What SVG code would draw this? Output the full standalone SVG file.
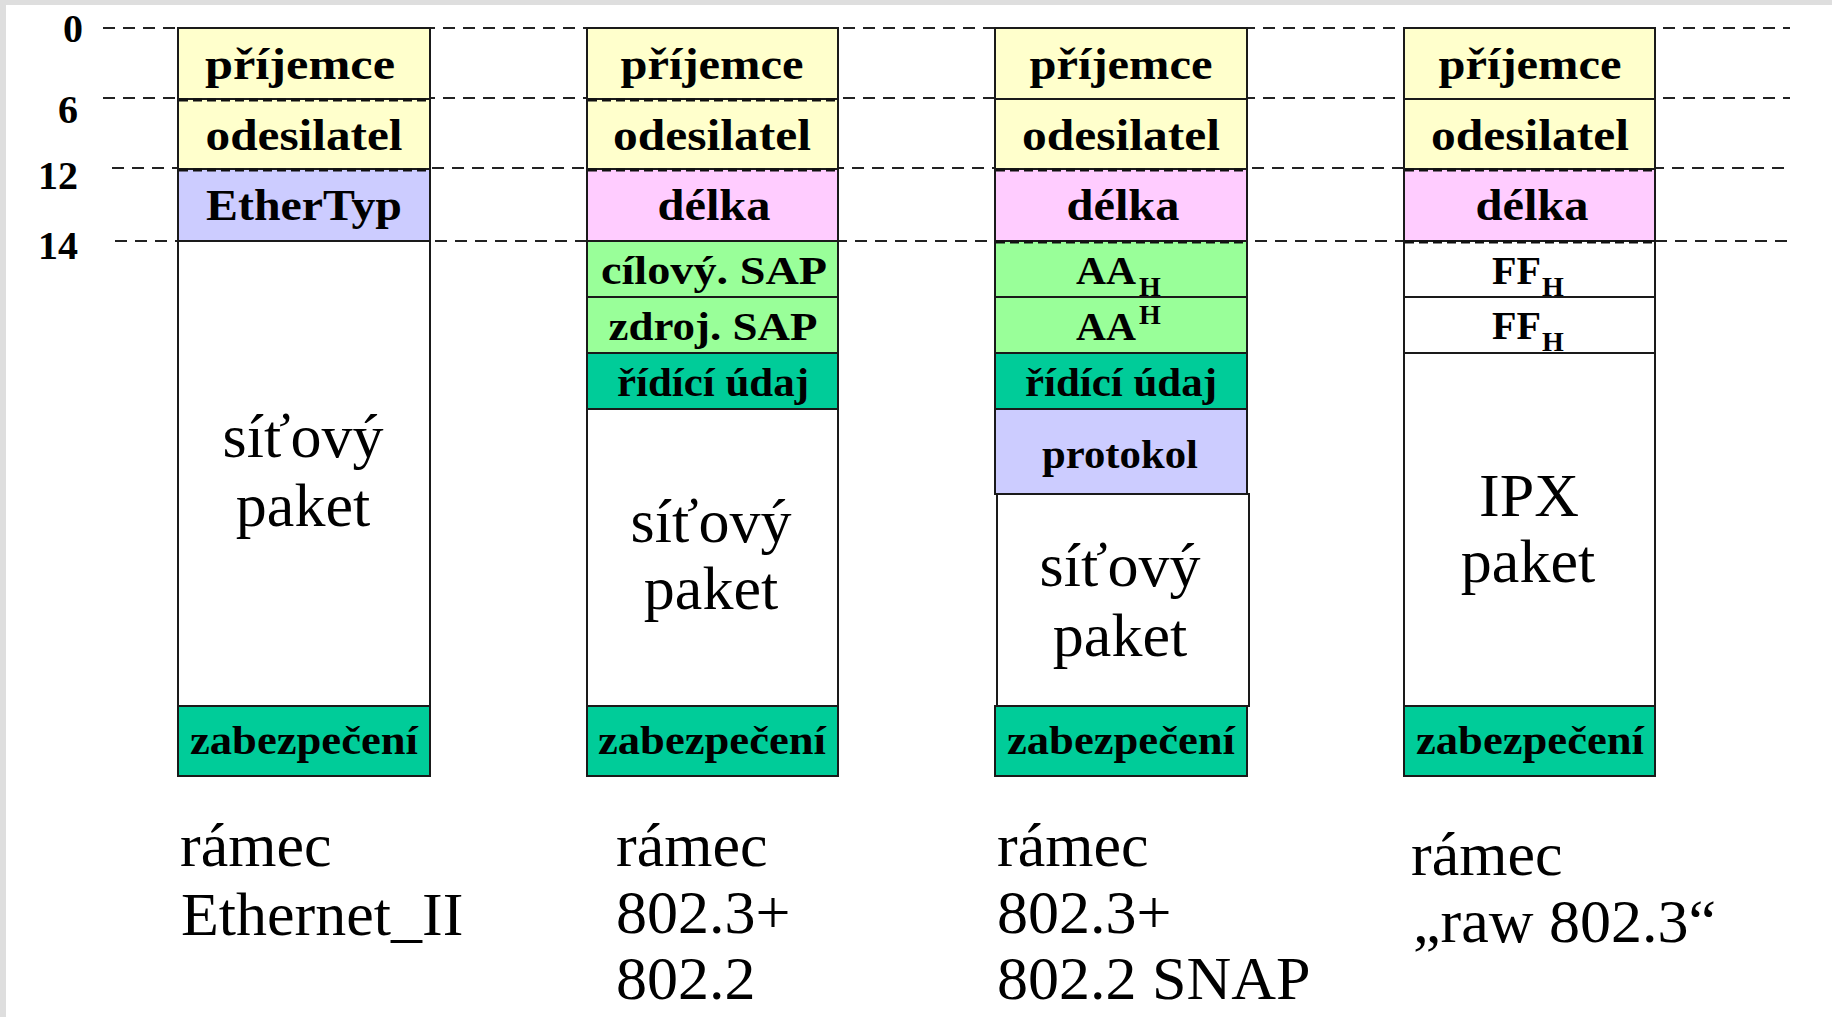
<svg xmlns="http://www.w3.org/2000/svg" width="1832" height="1017" viewBox="0 0 1832 1017">
<style>
.bg{fill:#dedede}
.f{stroke:#1a1a1a;stroke-width:2}
.y{fill:#FFFFCC}.l{fill:#CCCCFF}.p{fill:#FFCCFF}.g{fill:#99FF99}.t{fill:#00CC99}.w{fill:#FFFFFF}
.lb{font-family:"Liberation Serif","Times New Roman",serif;font-weight:bold;font-size:44px;text-anchor:middle;fill:#000}
.sm{font-size:40px}
.big{font-family:"Liberation Serif","Times New Roman",serif;font-size:62px;text-anchor:middle;fill:#000}
.cap{font-family:"Liberation Serif","Times New Roman",serif;font-size:62px;fill:#000}
.num{font-family:"Liberation Serif","Times New Roman",serif;font-weight:bold;font-size:40px;text-anchor:end;fill:#000}
.guide{stroke:#222;stroke-width:2;stroke-dasharray:12 8;fill:none}
.ov{stroke:#111;stroke-width:3;stroke-dasharray:9 5;fill:none}
.sub{font-family:"Liberation Serif","Times New Roman",serif;font-weight:bold;font-size:41px;fill:#000}
.h{font-size:28px}
</style>
<rect class="bg" x="0" y="0" width="1832" height="1017"/>
<rect x="6" y="5" width="1826" height="1012" fill="#fff"/>

<g id="scale">
<text class="num" x="83" y="42">0</text>
<text class="num" x="78" y="123">6</text>
<text class="num" x="78" y="189">12</text>
<text class="num" x="78" y="259">14</text>
</g>

<g id="guides">
<line class="guide" x1="103" y1="28" x2="1790" y2="28"/>
<line class="guide" x1="103" y1="98" x2="1790" y2="98"/>
<line class="guide" x1="112" y1="168" x2="1790" y2="168"/>
<line class="guide" x1="115" y1="241" x2="1790" y2="241"/>
</g>

<!-- Column 1: Ethernet_II -->
<g id="frame-ethernet-ii">
<g id="c1-prijemce"><rect class="f y" x="178" y="28" width="252" height="71"/><text class="lb" x="300" y="79" textLength="190" lengthAdjust="spacingAndGlyphs">příjemce</text></g>
<g id="c1-odesilatel"><rect class="f y" x="178" y="99" width="252" height="70"/><text class="lb" x="304" y="150" textLength="197" lengthAdjust="spacingAndGlyphs">odesilatel</text></g>
<g id="c1-ethertyp"><rect class="f l" x="178" y="169" width="252" height="72"/><text class="lb" x="304" y="220" textLength="196" lengthAdjust="spacingAndGlyphs">EtherTyp</text></g>
<g id="c1-paket"><rect class="f w" x="178" y="241" width="252" height="465"/><text class="big" x="303" y="457">síťový</text><text class="big" x="303" y="526">paket</text></g>
<g id="c1-zabezpeceni"><rect class="f t" x="178" y="706" width="252" height="70"/><text class="lb sm" x="304" y="754" textLength="228" lengthAdjust="spacingAndGlyphs">zabezpečení</text></g>
<line class="ov" x1="179" y1="100" x2="429" y2="100"/>
<line class="ov" x1="179" y1="170" x2="429" y2="170"/>
<g id="c1-caption"><text class="cap" x="180" y="866">rámec</text><text class="cap" x="181" y="935">Ethernet_II</text></g>
</g>

<!-- Column 2: 802.3 + 802.2 -->
<g id="frame-802-2">
<g id="c2-prijemce"><rect class="f y" x="587" y="28" width="251" height="71"/><text class="lb" x="712" y="79" textLength="183" lengthAdjust="spacingAndGlyphs">příjemce</text></g>
<g id="c2-odesilatel"><rect class="f y" x="587" y="99" width="251" height="70"/><text class="lb" x="712" y="150" textLength="198" lengthAdjust="spacingAndGlyphs">odesilatel</text></g>
<g id="c2-delka"><rect class="f p" x="587" y="169" width="251" height="72"/><text class="lb" x="714" y="220" textLength="113" lengthAdjust="spacingAndGlyphs">délka</text></g>
<g id="c2-cilovy-sap"><rect class="f g" x="587" y="241" width="251" height="56"/><text class="lb sm" x="714" y="284" textLength="226" lengthAdjust="spacingAndGlyphs">cílový. SAP</text></g>
<g id="c2-zdroj-sap"><rect class="f g" x="587" y="297" width="251" height="56"/><text class="lb sm" x="713" y="340" textLength="209" lengthAdjust="spacingAndGlyphs">zdroj. SAP</text></g>
<g id="c2-ridici-udaj"><rect class="f t" x="587" y="353" width="251" height="56"/><text class="lb sm" x="713" y="396" textLength="192" lengthAdjust="spacingAndGlyphs">řídící údaj</text></g>
<g id="c2-paket"><rect class="f w" x="587" y="409" width="251" height="297"/><text class="big" x="711" y="542">síťový</text><text class="big" x="711" y="609">paket</text></g>
<g id="c2-zabezpeceni"><rect class="f t" x="587" y="706" width="251" height="70"/><text class="lb sm" x="712" y="754" textLength="228" lengthAdjust="spacingAndGlyphs">zabezpečení</text></g>
<line class="ov" x1="588" y1="100" x2="837" y2="100"/>
<line class="ov" x1="588" y1="170" x2="837" y2="170"/>
<g id="c2-caption"><text class="cap" x="616" y="866">rámec</text><text class="cap" x="616" y="933">802.3+</text><text class="cap" x="616" y="999">802.2</text></g>
</g>

<!-- Column 3: 802.3 + 802.2 SNAP -->
<g id="frame-802-2-snap">
<g id="c3-prijemce"><rect class="f y" x="995" y="28" width="252" height="71"/><text class="lb" x="1121" y="79" textLength="183" lengthAdjust="spacingAndGlyphs">příjemce</text></g>
<g id="c3-odesilatel"><rect class="f y" x="995" y="99" width="252" height="70"/><text class="lb" x="1121" y="150" textLength="198" lengthAdjust="spacingAndGlyphs">odesilatel</text></g>
<g id="c3-delka"><rect class="f p" x="995" y="169" width="252" height="72"/><text class="lb" x="1123" y="220" textLength="113" lengthAdjust="spacingAndGlyphs">délka</text></g>
<g id="c3-aa1"><rect class="f g" x="995" y="241" width="252" height="56"/><text class="sub" x="1076" y="284" textLength="60" lengthAdjust="spacingAndGlyphs">AA</text><text class="sub h" x="1139" y="296">H</text></g>
<g id="c3-aa2"><rect class="f g" x="995" y="297" width="252" height="56"/><text class="sub" x="1076" y="340" textLength="60" lengthAdjust="spacingAndGlyphs">AA</text><text class="sub h" x="1139" y="324">H</text></g>
<g id="c3-ridici-udaj"><rect class="f t" x="995" y="353" width="252" height="56"/><text class="lb sm" x="1121" y="396" textLength="192" lengthAdjust="spacingAndGlyphs">řídící údaj</text></g>
<g id="c3-protokol"><rect class="f l" x="995" y="409" width="252" height="85"/><text class="lb sm" x="1120" y="468" textLength="156" lengthAdjust="spacingAndGlyphs">protokol</text></g>
<g id="c3-paket"><rect class="f w" x="997" y="494" width="252" height="212"/><text class="big" x="1120" y="586">síťový</text><text class="big" x="1120" y="656">paket</text></g>
<g id="c3-zabezpeceni"><rect class="f t" x="995" y="706" width="252" height="70"/><text class="lb sm" x="1121" y="754" textLength="228" lengthAdjust="spacingAndGlyphs">zabezpečení</text></g>
<line class="ov" x1="996" y1="170" x2="1246" y2="170"/>
<line class="ov" x1="996" y1="242" x2="1246" y2="242"/>
<g id="c3-caption"><text class="cap" x="997" y="866">rámec</text><text class="cap" x="997" y="933">802.3+</text><text class="cap" x="997" y="999">802.2 SNAP</text></g>
</g>

<!-- Column 4: raw 802.3 -->
<g id="frame-raw-802-3">
<g id="c4-prijemce"><rect class="f y" x="1404" y="28" width="251" height="71"/><text class="lb" x="1530" y="79" textLength="183" lengthAdjust="spacingAndGlyphs">příjemce</text></g>
<g id="c4-odesilatel"><rect class="f y" x="1404" y="99" width="251" height="70"/><text class="lb" x="1530" y="150" textLength="198" lengthAdjust="spacingAndGlyphs">odesilatel</text></g>
<g id="c4-delka"><rect class="f p" x="1404" y="169" width="251" height="72"/><text class="lb" x="1532" y="220" textLength="113" lengthAdjust="spacingAndGlyphs">délka</text></g>
<g id="c4-ff1"><rect class="f w" x="1404" y="241" width="251" height="56"/><text class="sub" x="1492" y="284" textLength="49" lengthAdjust="spacingAndGlyphs">FF</text><text class="sub h" x="1542" y="296">H</text></g>
<g id="c4-ff2"><rect class="f w" x="1404" y="297" width="251" height="56"/><text class="sub" x="1492" y="339" textLength="49" lengthAdjust="spacingAndGlyphs">FF</text><text class="sub h" x="1542" y="351">H</text></g>
<g id="c4-ipx"><rect class="f w" x="1404" y="353" width="251" height="353"/><text class="big" x="1529" y="516">IPX</text><text class="big" x="1528" y="582">paket</text></g>
<g id="c4-zabezpeceni"><rect class="f t" x="1404" y="706" width="251" height="70"/><text class="lb sm" x="1530" y="754" textLength="228" lengthAdjust="spacingAndGlyphs">zabezpečení</text></g>
<line class="ov" x1="1405" y1="170" x2="1654" y2="170"/>
<line class="ov" x1="1405" y1="242" x2="1654" y2="242"/>
<g id="c4-caption"><text class="cap" x="1411" y="875">rámec</text><text class="cap" x="1413" y="942">„raw 802.3“</text></g>
</g>
</svg>
